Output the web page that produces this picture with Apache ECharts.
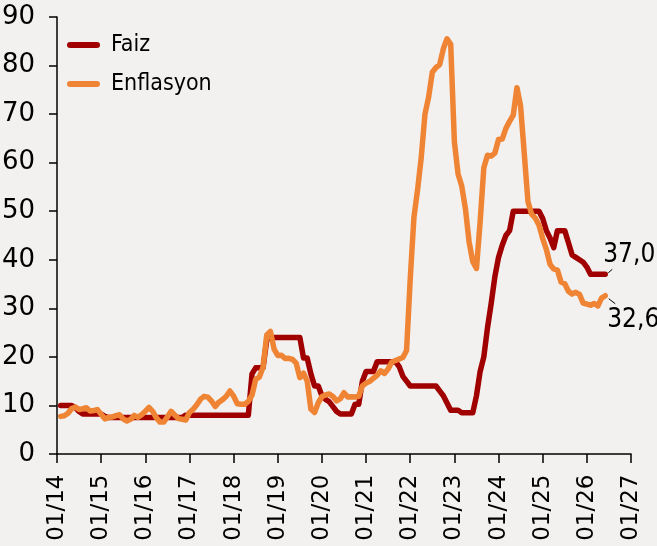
<!DOCTYPE html>
<html>
<head>
<meta charset="utf-8">
<script src="https://cdn.jsdelivr.net/npm/echarts@6/dist/echarts.min.js"></script>
<style>
html,body{margin:0;padding:0;background:#f2f1ef;}
#chart{width:657px;height:546px;}
</style>
</head>
<body>
<div id="chart"></div>
<script>
// Monthly data, first value = January 2014 (plotted at month end)
const startYear = 2014;
const seriesNames = ['Faiz', 'Enflasyon'];
const faiz = [
  10,10,10,10,9.5,8.75,8.25,8.25,8.25,8.25,8.25,8.25,
  7.75,7.5,7.5,7.5,7.5,7.5,7.5,7.5,7.5,7.5,7.5,7.5,
  7.5,7.5,7.5,7.5,7.5,7.5,7.5,7.5,7.5,7.5,8,8,
  8,8,8,8,8,8,8,8,8,8,8,8,
  8,8,8,8,16.5,17.75,17.75,17.75,23.5,24,24,24,
  24,24,24,24,24,24,19.75,19.75,16.5,14,14,12,
  11.25,10.75,9.75,8.75,8.25,8.25,8.25,8.25,10.25,10.25,15,17,
  17,17,19,19,19,19,19,19,18,16,15,14,
  14,14,14,14,14,14,14,13,12,10.5,9,9,
  9,8.5,8.5,8.5,8.5,12,17,20,26,31,36.5,40.5,
  43,45,46,50,50,50,50,50,50,50,50,48.5,
  46,44.5,42.5,46,46,46,43.5,41,40.5,40,39.5,38.5,
  37,37,37,37,37
];
const enflasyon = [
  7.75,7.89,8.39,9.38,9.66,9.16,9.32,9.54,8.86,8.96,9.15,8.17,
  7.24,7.55,7.61,7.91,8.09,7.20,6.81,7.14,7.95,7.58,8.10,8.81,
  9.58,8.78,7.46,6.57,6.58,7.64,8.79,8.05,7.28,7.16,7.00,8.53,
  9.22,10.13,11.29,11.87,11.72,10.90,9.79,10.68,11.20,11.90,12.98,11.92,
  10.35,10.26,10.23,10.85,12.15,15.39,15.85,17.90,24.52,25.24,21.62,20.30,
  20.35,19.67,19.71,19.50,18.71,15.72,16.65,15.01,9.26,8.55,10.56,11.84,
  12.15,12.37,11.86,10.94,11.39,12.62,11.76,11.77,11.75,11.89,14.03,14.60,
  14.97,15.61,16.19,17.14,16.59,17.53,18.95,19.25,19.58,19.89,21.31,36.08,
  48.69,54.44,61.14,69.97,73.50,78.62,79.60,80.21,83.45,85.51,84.39,64.27,
  57.68,55.18,50.51,43.68,39.59,38.21,47.83,58.94,61.53,61.36,61.98,64.77,
  64.86,67.07,68.50,69.80,75.45,71.60,61.78,51.97,49.38,48.58,47.09,44.38,
  42.12,39.05,38.10,37.86,35.41,35.05,33.52,32.95,33.29,32.87,31.07,30.89,
  30.65,31.0,30.5,32.1,32.6
];
const xMin = 2014, xMax = 2027, xStep = 1;
const yMin = 0, yMax = 90, yStep = 10;
const endLabels = ['37,0', '32,6'];

const FONT = "'DejaVu Sans', sans-serif";
const FONT_C = "'DejaVu Sans Condensed', 'DejaVu Sans', sans-serif";
const colors = ['#a00000', '#ef8435'];
const toPoints = arr => arr.map((v, i) => [startYear + (i + 1) / 12, v]);

const chart = echarts.init(document.getElementById('chart'), null, {renderer: 'canvas'});
const option = {
  backgroundColor: '#f2f1ef',
  animation: false,
  color: colors,
  grid: {left: 57, right: 26, top: 17, bottom: 92, containLabel: false, outerBoundsMode: 'none'},
  legend: {
    show: true,
    orient: 'vertical',
    left: 62, top: 28,
    itemWidth: 33, itemHeight: 6,
    itemGap: 15,
    icon: 'path://M3,0 H30 A3,3 0 0 1 30,6 H3 A3,3 0 0 1 3,0 Z',
    data: seriesNames,
    textStyle: {fontFamily: FONT_C, fontSize: 23, color: '#000', padding: [0, 0, 0, 6], lineHeight: 24}
  },
  xAxis: {
    type: 'value', min: xMin, max: xMax, interval: xStep,
    axisLine: {show: true, onZero: false, lineStyle: {color: '#000', width: 1.5}},
    axisTick: {show: true, inside: false, length: 9, lineStyle: {color: '#000', width: 1.5}},
    splitLine: {show: false},
    axisLabel: {
      rotate: 90, margin: 20.5, fontFamily: FONT, fontSize: 23, color: '#000',
      showMinLabel: true, showMaxLabel: true, hideOverlap: false,
      formatter: v => '01/' + String(Math.round(v)).slice(2)
    }
  },
  yAxis: {
    type: 'value', min: yMin, max: yMax, interval: yStep,
    axisLine: {show: true, lineStyle: {color: '#000', width: 1.5}},
    axisTick: {show: true, inside: false, length: 8, lineStyle: {color: '#000', width: 1.5}},
    splitLine: {show: false},
    axisLabel: {margin: 22, fontFamily: FONT, fontSize: 26, color: '#000', showMinLabel: true, showMaxLabel: true}
  },
  series: [
    {
      name: seriesNames[0], type: 'line', data: toPoints(faiz), showSymbol: false, symbol: 'none',
      lineStyle: {width: 5.5, color: colors[0], cap: 'round', join: 'round'}, z: 2
    },
    {
      name: seriesNames[1], type: 'line', data: toPoints(enflasyon), showSymbol: false, symbol: 'none',
      lineStyle: {width: 5.5, color: colors[1], cap: 'round', join: 'round'}, z: 3
    }
  ]
};
chart.setOption(option);

// End labels with short leader lines, anchored at the last data point of each series
const lastF = toPoints(faiz).slice(-1)[0];
const lastE = toPoints(enflasyon).slice(-1)[0];
const pF = chart.convertToPixel({seriesIndex: 0}, lastF);
const pE = chart.convertToPixel({seriesIndex: 1}, lastE);
chart.setOption({
  graphic: [
    {type: 'line', shape: {x1: pF[0] + 3, y1: pF[1] - 1.5, x2: pF[0] + 7, y2: pF[1] - 5}, style: {stroke: '#000', lineWidth: 1}},
    {type: 'text', x: pF[0] - 2, y: pF[1] - 19, style: {text: endLabels[0], fontFamily: FONT_C, fontSize: 26, fill: '#000', align: 'left', verticalAlign: 'middle'}},
    {type: 'line', shape: {x1: pE[0] + 3.5, y1: pE[1] + 3, x2: pE[0] + 10, y2: pE[1] + 8}, style: {stroke: '#000', lineWidth: 1}},
    {type: 'text', x: pE[0] + 2, y: pE[1] + 25, style: {text: endLabels[1], fontFamily: FONT_C, fontSize: 26, fill: '#000', align: 'left', verticalAlign: 'middle'}}
  ]
});
</script>
</body>
</html>
